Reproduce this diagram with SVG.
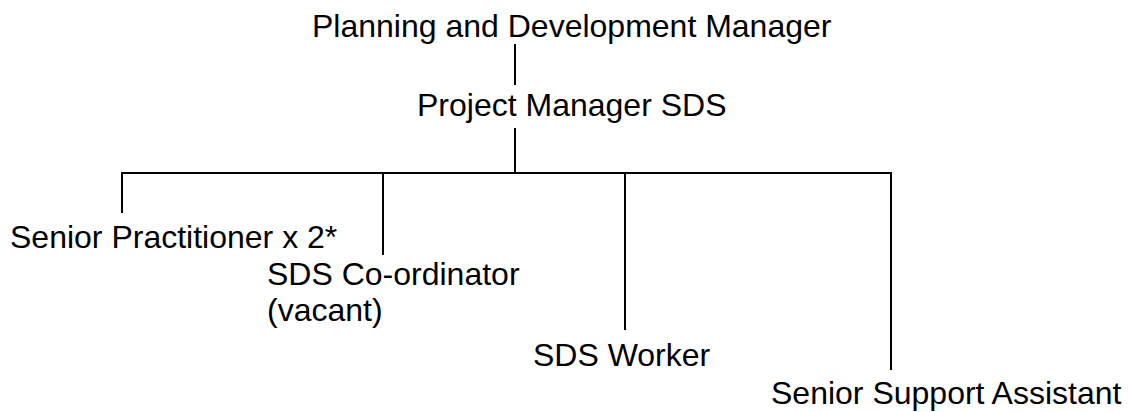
<svg xmlns="http://www.w3.org/2000/svg" width="1128" height="412" viewBox="0 0 1128 412">
  <style>
    .lbl { font-family: "Liberation Sans", Arial, sans-serif; font-size: 32px; fill: #000; }
    .ln { stroke: #000; stroke-width: 2; fill: none; stroke-linecap: butt; }
  </style>
  <rect width="1128" height="412" fill="#fff"/>

  <!-- reporting lines -->
  <g id="connectors">
    <line class="ln" x1="515" y1="44" x2="515" y2="85"/>
    <line class="ln" x1="515" y1="128" x2="515" y2="173"/>
    <line class="ln" x1="121" y1="173" x2="892" y2="173"/>
    <line class="ln" x1="122" y1="173" x2="122" y2="213"/>
    <line class="ln" x1="383" y1="173" x2="383" y2="255"/>
    <line class="ln" x1="625" y1="173" x2="625" y2="330"/>
    <line class="ln" x1="891" y1="173" x2="891" y2="370"/>
  </g>

  <g id="planning-development-manager">
    <text class="lbl" x="312" y="37">Planning and Development Manager</text>
  </g>
  <g id="project-manager-sds">
    <text class="lbl" x="417" y="116">Project Manager SDS</text>
  </g>
  <g id="senior-practitioner">
    <text class="lbl" x="10" y="248">Senior Practitioner x 2*</text>
  </g>
  <g id="sds-coordinator">
    <text class="lbl" x="267" y="285">SDS Co-ordinator</text>
    <text class="lbl" x="267" y="321">(vacant)</text>
  </g>
  <g id="sds-worker">
    <text class="lbl" x="533" y="366">SDS Worker</text>
  </g>
  <g id="senior-support-assistant">
    <text class="lbl" x="771" y="404">Senior Support Assistant</text>
  </g>
</svg>
